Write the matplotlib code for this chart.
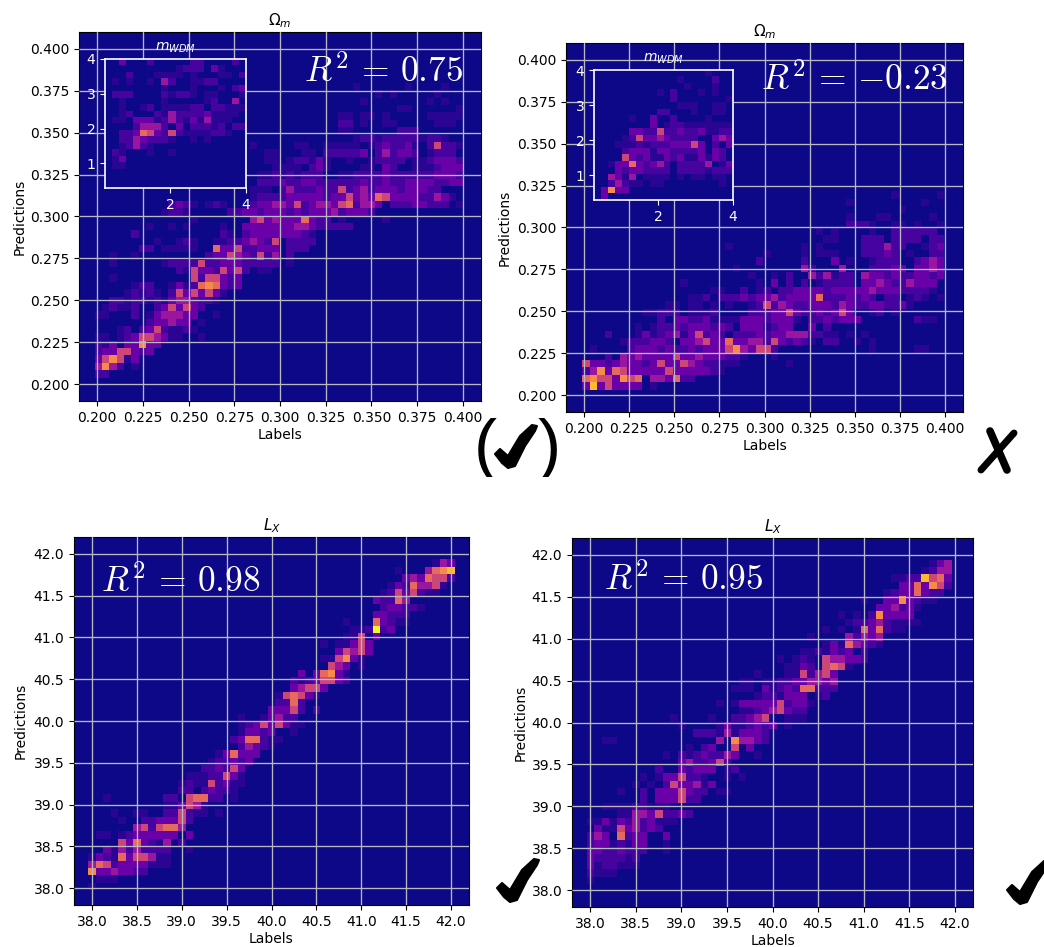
import numpy as np
import matplotlib
matplotlib.use('Agg')
import matplotlib.pyplot as plt
from matplotlib.lines import Line2D
from matplotlib.patches import Polygon
from matplotlib.transforms import Bbox, IdentityTransform, TransformedBbox

W, H = 1044, 947

# each row of a histogram, lowest first: (first bin, counts in 0-9 from there on)
OMEGA_A_ROWS = [
    (0, "22"), (0, "4742.1"), (0, "357513"), (0, "23355323"), (0, "213.33733"),
    (0, "11.123554311..1"), (3, "12.23521121"), (7, "233433.1"), (0, "11...2.1344433..1"),
    (1, "12112..2353532"), (2, "221221213443221"), (4, "12121.25353531"),
    (5, "122..1312676323"), (2, "1..........5255323"), (11, "2153325352.11"),
    (2, "1......1222252233322222.1"), (2, "1..1.........2335432524.2"),
    (6, "22.11111..633522333.222"), (8, "1..121..112234325.2222"),
    (5, "2...........21.2333333321"), (7, "1..1.1....1..333333344322222"),
    (13, "1.......45343336322.1.....1"), (9, "1221.....22332333232333423332"),
    (10, "2321.121...233443523443562443.22233222.1"), (21, "1222233333233534365333322431"),
    (21, "111.2422232252342333233322"), (22, "2223223322222232232233332233"),
    (22, "112121222..11222232222223332"), (24, "1111.231....11.32..1112333"),
    (23, "11.122131..1..12222.1123332"), (23, "11...11.222223.242332.1222"),
    (21, "1.....11..11111.1232231.25221"), (35, "1221222221221"), (33, "11......222"),
    (33, "22.1..11.....111"), (33, "11.11.1.....11111"), (41, "11......1"),
    (36, "1........1.1"), (38, "1.1.....1"), (35, "1......1....1"),
]
OMEGA_B_ROWS = [
    (0, "38353333.1"), (0, "67553756.443622"), (0, "2473653333353333321"),
    (0, "533234332353354322111......1"), (3, "2.43433335334333221...1"),
    (1, "1....23332322323335743552............1.....11"),
    (5, "1222332.334533633442532321.22..1.1"),
    (3, "2...131234135232.22232334442211.1.1"),
    (7, "1.12232333232.3331233..3.2"),
    (10, "2.33223111133323331.2232333.......211"),
    (8, "11222.1112....22233532232353..12.1"),
    (11, "11.11.1.1..1252432233324322332231"),
    (14, "112.222323342333362223232.22.121.1"),
    (17, "11..2.12.223333233333433322221"),
    (13, "1.........1.3.2.2.12222.3343224333"),
    (22, "1..1.2..424122.43323223323"),
    (20, "1........42...4...22233.3343"),
    (23, "2.....2...3.1..1222..2343"),
    (24, "1....1.111...22232.1..22"),
    (19, "1.........1.1.....222422..123"),
    (32, "11...222.2222.22"), (31, "1.1....1..222222"), (35, "2221..11.1..1"),
    (35, "1...11.....1"), (42, "1"), (35, "1.........1"), (41, "1.....1"),
]
LX_A_ROWS = [
    (0, "1"), (1, "111"), (0, "73343322"), (0, "46523333111"), (0, "13216355411"),
    (2, "314242222..1"), (4, "5363214.2"), (1, "11.12333333.3"), (6, "4525664"),
    (4, "1..2233352"), (3, "1..11..225211.1"), (10, "113541"), (2, "1.......22.56622.1"),
    (12, "22.23221"), (12, "121152311"), (13, "11122531"), (15, "223253"), (16, "122323"),
    (17, "136333"), (20, "24321"), (19, "2366211"), (20, "13323..1"), (20, "123535311"),
    (20, "1..13422"), (24, "33352.2"), (25, "2262"), (25, "156531"), (27, "34553"),
    (27, "21235532"), (28, "3.36731"), (32, "543.1"), (31, "115731"), (33, "35453"),
    (31, "1.11353"), (34, "115.3"), (35, "112923"), (34, "1...63211"), (38, "33222"),
    (39, "233221"), (38, "32264"), (39, "12535211"), (40, "13264451"), (42, "3436552"),
    (41, "1...4678"), (46, "143"),
]
LX_B_ROWS = [
    (0, "1"), (0, "2111"), (0, "3122111"), (0, "3222212"), (0, "33223222..1"),
    (0, "23312133..1"), (0, "243.6233..3"), (1, "311534232"), (0, "113132423111"),
    (4, "1144352232"), (2, "111122111"), (7, "2.333522"), (4, "1..2.3335322.11"),
    (6, "1.1.2533413"), (7, "1.1335221..1.1"), (9, "2..32333.12"), (12, "3422352"),
    (10, "1.21232243..1"), (13, "1.23..5.3"), (2, "11.............4.74432"),
    (14, "2221413332"), (12, "1....13112323.1"), (11, "1....1..22345..111"),
    (20, "112345322"), (17, "1.13333352331"), (22, "1221333.12"), (19, "111.3123266222"),
    (20, "11.1122334434"), (22, "1...1152453"), (26, "1132.5651"), (25, "1.121.544332"),
    (28, "1121323.2"), (31, "13164321"), (29, "1....42434"), (31, "1.1.1636211"),
    (34, "1223421111"), (33, "1.1.273333"), (38, "334231"), (36, "1..3373211"),
    (39, "12336322"), (41, "3363752"), (40, "11228563"), (44, "1244"), (45, "134"),
]
MWDM_A_ROWS = [
    (0, ""), (0, ""), (0, ""), (1, "11"), (1, "13"), (1, "21...1..1"), (2, "12421"),
    (2, "22432221..1.1"), (2, "2236532521111221"), (4, "24442.3.22212.22"),
    (1, "11.33312421314111"), (2, "12...214222231111"), (2, "1..12.111122.22111"),
    (2, "1.....1.....12..4"), (1, "222....21221.11...1"), (8, "1...1...1.23"),
    (1, "1.1..1.42..1122"), (3, "2...1111.1...11.2"), (10, "1222.31"), (2, "3...2.....22....2"),
]
MWDM_B_ROWS = [
    (1, "3"), (1, "3733"), (2, "24211.11........1"), (2, "4314.1111.1.11.11"),
    (3, "32332222.22221222"), (2, "133632342.22224.13"), (4, "532311323113132"),
    (4, "233313322223.32"), (3, "1112122233353.2.3"), (4, "12533432222..343"),
    (5, "332252232231122"), (8, "3.1221111111"), (5, "1..3..2....1"), (9, "22...1..11"),
    (12, "111..11"), (11, "2.......1"), (9, "1.2...1.1"), (13, "1...1"), (12, "1....2"), (16, "1"),
]

R2_TEXTS = [r"$R^2\,=\,0.75$", r"$R^2\,=\,{-}0.23$", r"$R^2\,=\,0.98$", r"$R^2\,=\,0.95$"]

# what a count digit means on the colour scale (the low end stays dark)
LEVELS = np.array([0, .05, .11, .2, .33, .5, .62, .72, .85, 1.0])

# pen outline of the check mark, in pixels of a 80x80 box
CHECK = [(15, 48), (20, 43), (28, 50), (40, 30), (52, 19), (57, 20), (55, 25), (45, 40), (35, 60), (28, 62), (22, 57)]


def counts(rows, ncols):
    out = np.zeros((len(rows), ncols))
    for j, (start, txt) in enumerate(rows):
        for i, c in enumerate(txt):
            if c != '.' and start + i < ncols:
                out[j, start + i] = LEVELS[int(c)]
    return out


def px_axes(fig, left, top, right, bottom):
    return fig.add_axes([left / W, 1 - bottom / H, (right - left) / W, (bottom - top) / H])


def heat(ax, rows, x0, dx, y0, dy, ncols=50):
    z = counts(rows, ncols)
    xe = x0 + dx * np.arange(ncols + 1)
    ye = y0 + dy * np.arange(len(rows) + 1)
    ax.set_facecolor(plt.cm.plasma(0.0))
    ax.pcolormesh(xe, ye, z, cmap='plasma', vmin=0, vmax=1, shading='flat', rasterized=True)


def main_panel(fig, box, rows, bins, lims, title, r2, r2_pos, ypad):
    ax = px_axes(fig, *box)
    heat(ax, rows, *bins)
    ax.set_xlim(lims)
    ax.set_ylim(lims)
    ax.grid(True, color='#b8b8c0', linewidth=0.95)
    ax.set_axisbelow(False)
    ax.set_title(title, fontsize=11, pad=5)
    ax.set_xlabel('Labels', labelpad=2.5)
    ax.set_ylabel('Predictions', labelpad=ypad)
    fig.text(r2_pos[0] / W, 1 - r2_pos[1] / H, r2, color='white', fontsize=25.5,
             math_fontfamily='cm', va='baseline', ha='left', zorder=5)
    return ax


def inset_panel(fig, box, rows, xlim, ylim):
    ax = px_axes(fig, *box)
    dx = (xlim[1] - xlim[0]) / 20
    dy = (ylim[1] - ylim[0]) / 20
    heat(ax, rows, xlim[0], dx, ylim[0], dy, ncols=20)
    ax.set_xlim(xlim)
    ax.set_ylim(ylim)
    ax.set_xticks([2, 4])
    ax.set_yticks([1, 2, 3, 4])
    ax.tick_params(colors='white', labelsize=10)
    for s in ax.spines.values():
        s.set_color('white')
        s.set_linewidth(1.2)
    ax.set_title('$m_{WDM}$', color='white', fontsize=10, pad=6)
    return ax


def draw_check(fig, x, y, scale=1.0):
    pts = [((x + scale * a) / W, 1 - (y + scale * b) / H) for a, b in CHECK]
    fig.add_artist(Polygon(pts, closed=True, transform=fig.transFigure, facecolor='black',
                           edgecolor='black', linewidth=1.5, joinstyle='round'))


def draw_paren(fig, txt, x, y):
    t = fig.text(x / W, 1 - y / H, txt, fontsize=50, color='black', ha='center', va='baseline',
                 family='Liberation Sans', fontweight='light')
    t.set_clip_on(True)
    t.set_clip_box(TransformedBbox(Bbox([[x - 30, H - 477], [x + 30, H - 410]]), IdentityTransform()))


fig = plt.figure(figsize=(W / 100, H / 100), dpi=100)

main_panel(fig, (79, 32, 481, 401), OMEGA_A_ROWS, (0.1985, 0.00404, 0.204, 0.00439),
           (0.19, 0.41), r'$\Omega_m$', R2_TEXTS[0], (304, 82), 2.5)
main_panel(fig, (566, 43, 963, 412), OMEGA_B_ROWS, (0.1989, 0.00418, 0.2034, 0.00438),
           (0.19, 0.41), r'$\Omega_m$', R2_TEXTS[1], (761, 90), 4)
main_panel(fig, (74, 537, 469, 905), LX_A_ROWS, (37.96, 0.0833, 37.98, 0.0878),
           (37.8, 42.2), '$L_X$', R2_TEXTS[2], (101, 592), 4)
main_panel(fig, (572, 538, 973, 907), LX_B_ROWS, (37.96, 0.0835, 38.075, 0.0879),
           (37.8, 42.2), '$L_X$', R2_TEXTS[3], (604, 590), 2.5)

inset_panel(fig, (105, 59, 246, 188), MWDM_A_ROWS, (0.27, 4), (0.29, 4))
inset_panel(fig, (594, 70, 733, 200), MWDM_B_ROWS, (0.29, 4), (0.29, 4))

# hand drawn verdict marks
draw_paren(fig, '(', 485, 468)
draw_paren(fig, ')', 549, 468)
draw_check(fig, 480, 406)
draw_check(fig, 482, 840)
draw_check(fig, 992, 842)
fig.add_artist(Line2D([(965 + 25) / W, (965 + 42) / W], [1 - (415 + 16) / H, 1 - (415 + 55) / H],
                      transform=fig.transFigure, color='black', lw=5.5, solid_capstyle='round'))
fig.add_artist(Line2D([(965 + 49) / W, (965 + 16) / W], [1 - (415 + 18) / H, 1 - (415 + 55) / H],
                      transform=fig.transFigure, color='black', lw=5, solid_capstyle='round'))

fig.savefig('out.png', dpi=100)
